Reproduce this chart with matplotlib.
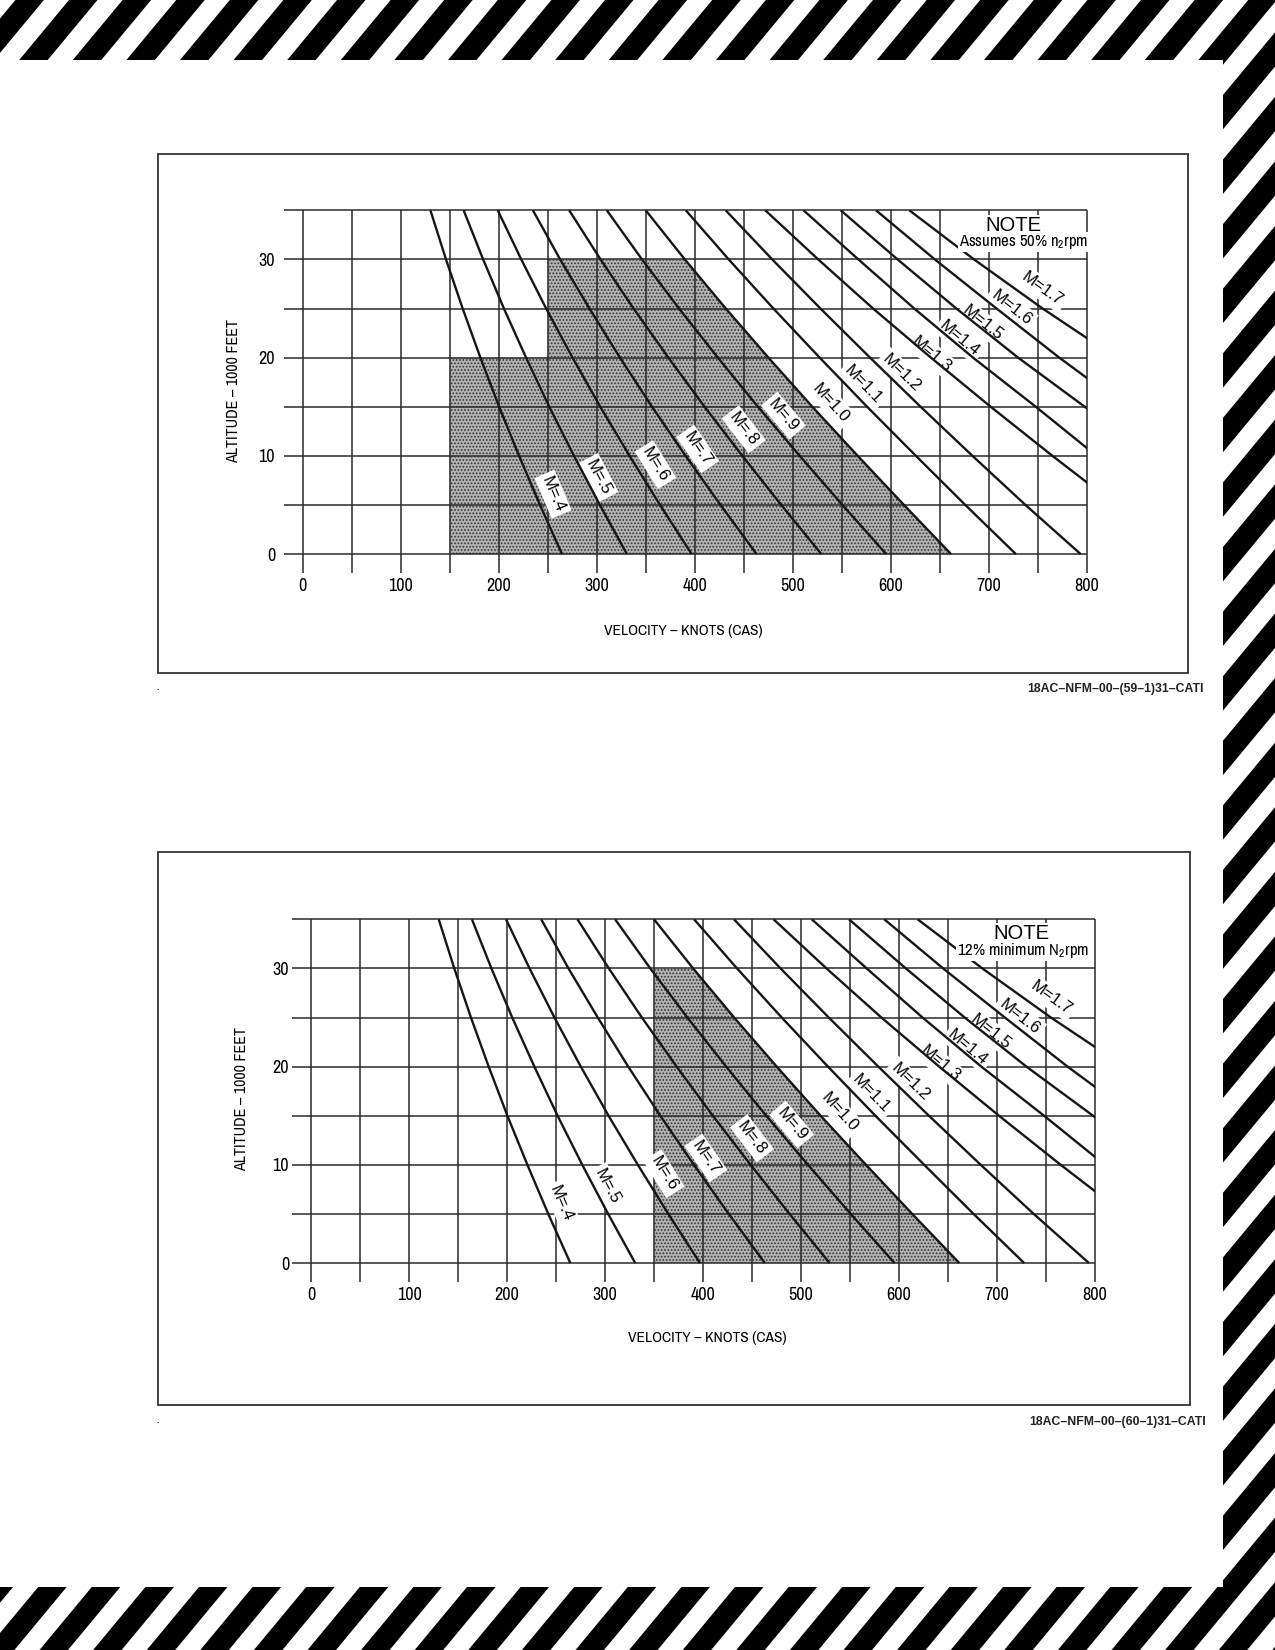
import numpy as np
import matplotlib.pyplot as plt
from matplotlib.patches import Polygon, Rectangle

plt.rcParams["font.family"] = ["Archivo Narrow", "DejaVu Sans"]
plt.rcParams["mathtext.fontset"] = "custom"
plt.rcParams["mathtext.rm"] = "Archivo Narrow"
plt.rcParams["mathtext.it"] = "Archivo Narrow"
plt.rcParams["hatch.linewidth"] = 0.8
WIDE = ["Liberation Sans", "DejaVu Sans"]

# altitude (1000 ft) at which each constant-Mach line was read (CAS, knots)
altitude = [0, 5, 10, 15, 20, 25, 30, 35]
m04 = [264.6, 242.1, 220.8, 200.4, 181.3, 163.2, 146.2, 130.3]
m05 = [330.8, 303.2, 276.8, 251.6, 227.9, 205.3, 184.1, 164.2]
m06 = [396.9, 364.6, 333.5, 303.6, 275.3, 248.4, 223.0, 199.0]
m07 = [463.1, 426.3, 390.7, 356.4, 323.7, 292.6, 262.7, 234.9]
m08 = [529.2, 488.3, 448.6, 410.0, 373.1, 337.6, 303.9, 271.9]
m09 = [595.4, 550.7, 507.1, 464.5, 423.6, 384.0, 346.2, 310.3]
m10 = [661.5, 613.5, 566.3, 520.0, 475.2, 431.7, 389.9, 350.0]
m11 = [727.7, 676.1, 625.7, 575.9, 527.5, 480.3, 434.7, 390.9]
m12 = [793.8, 737.5, 683.4, 630.5, 578.9, 528.3, 479.1, 431.6]
m13 = [895, 830, 765, 702, 641, 582, 526, 472]
m14 = [945, 875, 810, 748, 684, 624, 567, 511]
m15 = [1010, 935, 866, 798, 730, 667, 607, 549]
m16 = [1075, 985, 910, 840, 772, 708, 645, 585]
m17 = [1140, 1060, 980, 905, 830, 755, 685, 619]
mach_lines = [m04, m05, m06, m07, m08, m09, m10, m11, m12, m13, m14, m15, m16, m17]
mach_names = ['M=.4', 'M=.5', 'M=.6', 'M=.7', 'M=.8', 'M=.9', 'M=1.0',
              'M=1.1', 'M=1.2', 'M=1.3', 'M=1.4', 'M=1.5', 'M=1.6', 'M=1.7']

# where the labels sit (knots, 1000 ft)
label_vel = [255.5, 302, 360, 403, 450, 490.5, 539, 571.5, 611.5, 642, 670, 693.5, 723, 755]
label_alt = [6.1, 7.8, 9.1, 10.7, 12.7, 14.1, 15.4, 17.2, 18.4, 20.3, 21.9, 23.5, 25.1, 27.0]

# shaded envelope: left / stepped edge, closed by the M=1.0 line up to 30,000 ft
env1_vel = [150, 150, 250, 250]
env1_alt = [0, 20, 20, 30]
env2_vel = [350, 350]
env2_alt = [0, 30]
env_top = 30

x_grid = np.arange(0, 801, 50)
y_grid = np.arange(0, 36, 5)
x_ticks = [0, 100, 200, 300, 400, 500, 600, 700, 800]
y_ticks = [0, 10, 20, 30]

W, H = 1275, 1650
fig = plt.figure(figsize=(W / 100, H / 100), dpi=100)

# page background with hazard stripes
bg = fig.add_axes([0, 0, 1, 1])
bg.set_xlim(0, W)
bg.set_ylim(H, 0)
bg.axis('off')
k, period, width, c0 = 0.83, 53.6, 28.5, 69
for c in np.arange(c0 - 2 * period, W + k * H + period, period):
    bg.add_patch(Polygon([(c, 0), (c + width, 0), (c + width - k * H, H), (c - k * H, H)],
                         closed=True, facecolor='black', lw=0))
bg.add_patch(Rectangle((0, 60), 1222.7, 1527, facecolor='white', lw=0))

# chart frames, figure numbers
bg.add_patch(Rectangle((158, 154), 1030, 519, fill=False, lw=1.3, ec='#333333'))
bg.add_patch(Rectangle((158.3, 852.3), 1031.7, 552.7, fill=False, lw=1.3, ec='#333333'))
bg.text(1204, 689, '18AC–NFM–00–(59–1)31–CATI', ha='right', va='center',
        fontsize=8.8, fontweight='bold', color='#222222', family=WIDE)
bg.text(1206, 1421.7, '18AC–NFM–00–(60–1)31–CATI', ha='right', va='center',
        fontsize=8.8, fontweight='bold', color='#222222', family=WIDE)
bg.text(158, 692, '.', ha='center', va='bottom', fontsize=8, fontweight='bold')
bg.text(158, 1425, '.', ha='center', va='bottom', fontsize=8, fontweight='bold')


def draw_chart(rect, env_vel, env_alt, note_text, ypad, xlab_xy, ylab_xy, note_xy, sub_xy):
    ax = fig.add_axes(rect)
    ax.patch.set_visible(False)
    ax.set_xlim(-19, 800)
    ax.set_ylim(-1.9, 35)
    for s in ax.spines.values():
        s.set_visible(False)

    # shaded region
    edge_alt = [a for a in altitude if a <= env_top][::-1]
    edge_vel = [np.interp(a, altitude, m10) for a in edge_alt]
    ax.fill(env_vel + edge_vel, env_alt + edge_alt, facecolor='#b2b2b2',
            edgecolor='#333333', hatch='.....', lw=0, zorder=0.5)

    # grid
    ax.vlines(x_grid, -1.9, 35, color='#2a2a2a', lw=1.1, zorder=1, clip_on=False)
    ax.hlines(y_grid, -19, 800, color='#2a2a2a', lw=1.1, zorder=1, clip_on=False)

    # Mach lines
    for line in mach_lines:
        ax.plot(line, altitude, color='#161616', lw=1.7, zorder=4, solid_capstyle='butt')

    # labels along the lines
    for line, name, lv, la in zip(mach_lines, mach_names, label_vel, label_alt):
        p1 = ax.transData.transform((np.interp(la + 1, altitude, line), la + 1))
        p2 = ax.transData.transform((np.interp(la - 1, altitude, line), la - 1))
        ang = np.degrees(np.arctan2(p2[1] - p1[1], p2[0] - p1[0]))
        ax.text(lv, la, name, rotation=ang, rotation_mode='anchor', ha='center',
                va='center', fontsize=12, family=WIDE, zorder=3,
                bbox=dict(facecolor='white', edgecolor='none', pad=2.4))

    ax.set_xticks(x_ticks)
    ax.set_xticklabels([str(v) for v in x_ticks])
    ax.set_yticks(y_ticks)
    ax.set_yticklabels([str(v) for v in y_ticks])
    ax.tick_params(axis='x', length=0, pad=4, labelsize=13)
    ax.tick_params(axis='y', length=0, pad=ypad, labelsize=13)

    ax.text(xlab_xy[0], xlab_xy[1], 'VELOCITY – KNOTS (CAS)', transform=ax.transAxes,
            ha='center', va='center', fontsize=11.2)
    ax.text(ylab_xy[0], ylab_xy[1], 'ALTITUDE – 1000 FEET', transform=ax.transAxes,
            ha='center', va='center', rotation=90, fontsize=11.5)

    ax.text(note_xy[0], note_xy[1], 'NOTE', ha='center', va='center', fontsize=14.5,
            family=WIDE, zorder=5, bbox=dict(facecolor='white', edgecolor='none', pad=0.5))
    ax.text(sub_xy[0], sub_xy[1], note_text, ha='center', va='center', fontsize=12,
            zorder=5, bbox=dict(facecolor='white', edgecolor='none', pad=0.8))
    return ax


draw_chart([284.1 / W, 1 - 572.7 / H, 802.6 / W, 362.4 / H], env1_vel, env1_alt,
           r'Assumes 50% n$_2$rpm', 6.5, (0.4968, -0.161), (-0.063, 0.5006),
           (725, 33.5), (736, 31.8))
draw_chart([292.4 / W, 1 - 1281.7 / H, 802.6 / W, 362.4 / H], env2_vel, env2_alt,
           r'12% minimum N$_2$rpm', 2.4, (0.5166, -0.1553), (-0.0628, 0.503),
           (725, 33.6), (727, 31.8))

fig.savefig('out.png', dpi=100)
